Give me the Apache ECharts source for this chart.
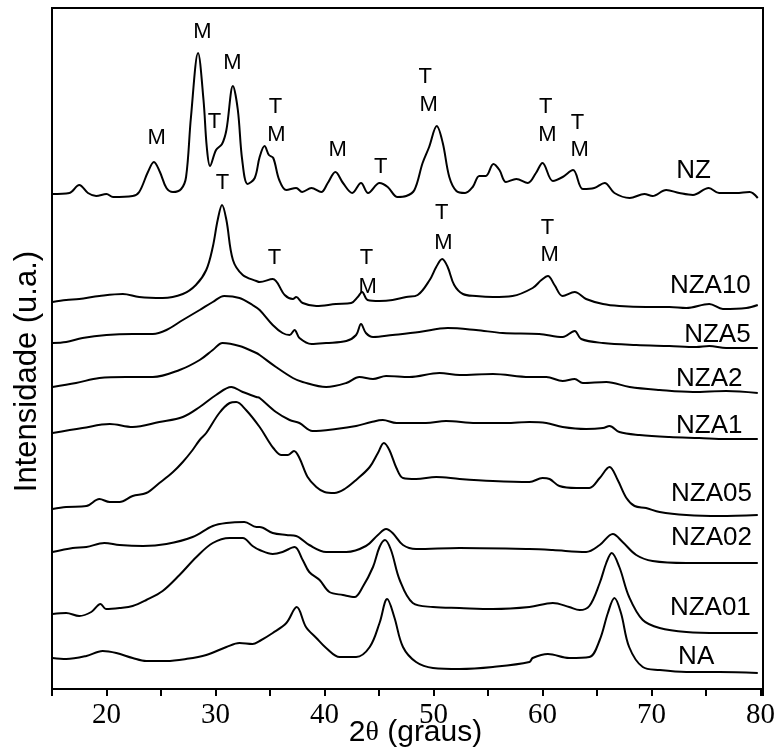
<!DOCTYPE html>
<html>
<head>
    <meta charset="utf-8">
    <title>DRX amostras NZ / NZA / NA</title>
    <script src="https://cdn.jsdelivr.net/npm/echarts@6/dist/echarts.min.js"></script>
</head>
<body style="margin:0">
    <div id="main" style="width:784px; height:749px"></div>
    <script type="text/javascript">
        // 2theta (graus), intensidade (u.a., curvas deslocadas)
        var nz = [[15.0,495],[16.6,496],[17.5,504],[18.3,496],[19.05,493],[20.0,495],[20.6,492],[22.4,493],[23.0,497],[23.8,517],[24.35,527],[24.9,517],[25.5,501],[26.1,497],[26.85,500],[27.3,512],[27.75,572],[28.4,636],[28.9,589],[29.2,542],[29.5,523],[30.05,539],[30.6,545],[31.0,559],[31.6,603],[32.05,579],[32.45,529],[32.95,505],[33.6,511],[34.05,532],[34.5,543],[34.9,534],[35.3,531],[35.85,509],[36.5,499],[37.4,501],[37.95,497],[38.8,501],[39.7,497],[40.3,506],[41.0,517],[41.7,506],[42.55,496],[43.35,506],[44.0,496],[45.05,506],[45.8,502],[46.7,492],[47.5,493],[48.25,499],[49.0,526],[49.6,542],[50.3,563],[50.85,546],[51.45,512],[52.1,498],[52.9,496],[53.6,502],[54.2,513],[54.8,513],[55.5,525],[56.05,519],[56.65,507],[57.6,510],[58.65,506],[59.4,516],[60.0,526],[60.95,508],[61.85,512],[62.8,519],[63.7,500],[64.75,501],[65.7,506],[66.6,496],[68.0,491],[69.35,495],[70.1,493],[71.35,499],[72.55,496],[73.8,494],[75.25,501],[76.2,496],[77.75,496],[79.0,497],[79.75,491]];
        var nza10 = [[15.05,387],[16.3,389],[17.5,390],[19.35,393],[21.5,395],[23.0,392],[25.15,391],[27.0,395],[28.2,404],[29.15,419],[29.75,442],[30.2,469],[30.6,484],[31.0,469],[31.6,429],[32.5,414],[33.75,408],[34.05,407],[35.25,410],[36.35,394],[37.1,390],[37.4,392],[38.0,386],[39.25,383],[41.05,385],[42.45,386],[43.05,392],[43.45,397],[43.95,389],[45.05,388],[46.25,389],[47.5,392],[48.55,394],[49.65,409],[50.25,422],[50.8,430],[51.3,422],[51.9,404],[52.7,395],[53.9,393],[55.45,392],[57.25,393],[59.1,401],[59.9,409],[60.5,413],[61.1,404],[61.85,393],[62.95,397],[64.0,390],[65.55,385],[67.05,383],[69.5,382],[71.65,382],[73.2,381],[75.3,385],[76.55,380],[78.7,381],[79.75,384]];
        var nza5 = [[15.05,346],[16.3,347],[17.8,351],[20.0,354],[22.4,355],[24.25,355],[25.5,359],[27.0,369],[28.55,379],[29.75,387],[30.8,393],[32.2,391],[33.4,384],[34.05,379],[35.25,364],[36.15,356],[36.8,354],[37.25,359],[37.7,351],[38.8,345],[40.15,346],[42.0,348],[42.9,354],[43.35,365],[43.8,356],[44.45,352],[46.25,354],[48.7,357],[51.3,361],[53.9,359],[56.35,356],[59.7,355],[61.85,352],[62.95,358],[63.55,350],[65.55,346],[68.6,344],[71.65,343],[74.1,342],[75.3,343],[76.85,341],[79.75,341]];
        var nza2 = [[15.05,302],[17.2,306],[19.35,311],[21.8,312],[24.25,312],[26.7,319],[28.55,329],[29.75,339],[30.65,346],[32.2,343],[33.75,336],[34.05,334],[35.55,322],[37.1,311],[38.0,307],[40.15,302],[42.0,306],[43.2,312],[44.45,310],[45.65,313],[47.8,312],[50.55,316],[52.4,314],[55.45,315],[58.8,312],[60.35,312],[61.85,308],[62.95,310],[63.7,306],[65.85,307],[68.0,302],[70.75,299],[73.8,297],[76.85,298],[79.75,296]];
        var nza1 = [[15.05,256],[17.8,261],[20.3,265],[22.4,262],[24.85,267],[27.0,272],[28.55,282],[30.05,294],[31.45,302],[32.5,297],[33.75,292],[34.05,291],[35.55,277],[36.8,269],[37.7,266],[38.9,258],[41.05,260],[42.9,263],[44.3,267],[45.35,269],[46.6,266],[49.3,266],[51.15,268],[53.9,266],[56.65,266],[58.8,267],[60.35,266],[61.85,262],[64.0,260],[65.55,261],[66.15,263],[67.05,257],[68.9,254],[71.65,252],[74.4,251],[76.85,250],[79.75,250]];
        var nza05 = [[15.05,180],[16.3,182],[18.15,183],[19.35,190],[20.3,187],[21.2,187],[22.4,193],[23.65,196],[24.85,206],[26.1,217],[27.0,227],[27.9,239],[28.55,249],[29.15,256],[30.35,276],[31.3,286],[31.9,287],[32.8,279],[34.05,262],[34.8,249],[35.3,241],[36.05,234],[36.65,234],[37.2,238],[37.7,231],[38.45,212],[39.25,202],[40.0,197],[40.9,196],[41.85,200],[42.9,209],[44.15,222],[44.9,236],[45.45,246],[45.95,239],[46.6,221],[47.2,211],[48.4,210],[50.25,212],[52.4,210],[55.45,208],[58.8,207],[60.0,211],[60.65,210],[61.55,203],[63.1,201],[64.3,201],[65.25,211],[66.15,222],[66.9,209],[67.7,191],[68.45,183],[69.5,181],[70.75,177],[73.2,174],[76.25,173],[79.75,174]];
        var nza02 = [[15.05,137],[16.9,141],[18.15,142],[19.8,146],[21.2,144],[23.35,143],[25.5,145],[27.9,152],[29.75,163],[31.0,166],[32.65,167],[33.75,162],[34.05,162],[35.25,156],[36.5,154],[37.4,153],[38.6,144],[40.15,137],[42.0,137],[43.8,143],[44.9,154],[45.65,160],[46.25,156],[47.2,144],[48.4,140],[52.4,141],[58.8,140],[60.95,139],[64.0,137],[65.25,144],[66.45,155],[67.35,147],[68.6,134],[70.1,128],[73.2,126],[76.25,126],[79.75,126]];
        var nza01 = [[15.05,75],[16.3,76],[17.5,73],[18.6,77],[19.45,85],[19.95,80],[21.2,81],[22.4,83],[23.65,89],[25.15,98],[26.7,114],[28.25,132],[29.75,146],[31.3,151],[32.5,151],[33.4,143],[34.05,139],[35.25,135],[36.15,137],[37.25,142],[38.0,129],[38.6,117],[39.55,109],[40.45,97],[41.7,94],[42.75,92],[43.5,102],[44.45,122],[45.05,142],[45.55,149],[46.1,139],[46.9,109],[48.1,86],[49.95,82],[52.4,81],[55.45,80],[58.8,82],[60.95,86],[62.45,82],[63.4,79],[64.3,83],[65.25,106],[65.85,126],[66.35,136],[67.05,122],[67.95,92],[69.2,69],[70.75,61],[73.2,57],[76.25,56],[79.75,56]];
        var na = [[15.05,31],[16.3,30],[18.15,33],[19.65,38],[20.9,36],[22.4,31],[23.65,28],[25.5,28],[27.3,30],[29.15,34],[31.0,42],[32.2,46],[33.4,45],[34.05,48],[35.25,56],[36.5,66],[37.45,82],[38.3,62],[39.25,51],[40.15,41],[41.4,32],[42.9,32],[44.15,42],[45.05,66],[45.75,90],[46.4,72],[47.2,42],[48.4,27],[49.95,21],[52.4,20],[55.45,22],[58.8,27],[59.1,31],[60.5,35],[62.45,31],[64.3,32],[65.25,49],[66.0,76],[66.6,91],[67.2,76],[67.95,42],[69.2,22],[70.75,19],[73.2,17],[76.25,17],[79.75,16]];

        // fases: M = monoclinica, T = tetragonal
        var peakLabels = [
            [28.8,657,'M'],[31.55,626,'M'],[29.9,567,'T'],[24.6,551,'M'],
            [35.5,582,'T'],[35.6,554,'M'],[41.2,539,'M'],[45.15,522,'T'],
            [49.25,612,'T'],[49.55,584,'M'],[60.3,582,'T'],[60.45,554,'M'],
            [63.2,566,'T'],[63.4,539,'M'],
            [30.65,506,'T'],[35.4,431,'T'],[43.85,431,'T'],[43.95,402,'M'],
            [50.75,476,'T'],[50.9,446,'M'],[60.45,461,'T'],[60.65,434,'M']
        ];
        var sampleLabels = [
            [73.85,518,'NZ'],[75.4,403,'NZA10'],[76.05,354,'NZA5'],[75.3,310,'NZA2'],
            [75.3,263,'NZA1'],[75.5,195,'NZA05'],[75.5,151,'NZA02'],[75.4,81,'NZA01'],[74.1,32,'NA']
        ];
        var xTickLabels = [20, 30, 40, 50, 60, 70, 80];

        var curves = [nz, nza10, nza5, nza2, nza1, nza05, nza02, nza01, na];
        var names = ['NZ', 'NZA10', 'NZA5', 'NZA2', 'NZA1', 'NZA05', 'NZA02', 'NZA01', 'NA'];

        var myChart = echarts.init(document.getElementById('main'));

        var series = curves.map(function (d, i) {
            return {
                name: names[i],
                type: 'line',
                data: d,
                smooth: 0.35,
                symbol: 'none',
                lineStyle: { color: '#000', width: 2 },
                silent: true
            };
        });

        function textSeries(data, size) {
            return {
                type: 'scatter',
                data: data,
                symbolSize: 1,
                itemStyle: { color: 'rgba(0,0,0,0)', opacity: 1 },
                silent: true,
                label: {
                    show: true,
                    position: 'inside',
                    color: '#000',
                    opacity: 1,
                    textBorderWidth: 0,
                    fontFamily: 'Liberation Sans',
                    fontSize: size,
                    formatter: function (p) { return p.data[2]; }
                }
            };
        }
        series.push(textSeries(peakLabels, 22));
        series.push(textSeries(sampleLabels, 26));

option = {
    animation: false,
    backgroundColor: '#fff',
    grid: {
        left: 52,
        right: 21,
        top: 8,
        bottom: 60,
        containLabel: false,
        outerBoundsMode: 'none',
        show: true,
        borderColor: '#000',
        borderWidth: 2
    },
    xAxis: {
        type: 'value',
        min: 15,
        max: 80.23,
        interval: 5,
        name: '{a|2}{b|θ}{a| (graus)}',
        nameLocation: 'middle',
        nameGap: 29,
        nameMoveOverlap: false,
        nameTextStyle: {
            padding: [0, 0, 0, 16],
            rich: {
                a: { fontFamily: 'Liberation Sans', fontSize: 30, color: '#000' },
                b: { fontFamily: 'Liberation Serif', fontSize: 28, color: '#000' }
            }
        },
        axisLine: { lineStyle: { color: '#000', width: 2 } },
        axisTick: { length: 7, lineStyle: { color: '#000', width: 2 } },
        axisLabel: {
            margin: 12,
            color: '#000',
            fontFamily: 'Liberation Serif',
            fontSize: 29,
            showMaxLabel: true,
            formatter: function (v) {
                return xTickLabels.indexOf(v) >= 0 ? String(v) : '';
            }
        },
        splitLine: { show: false }
    },
    yAxis: {
        type: 'value',
        min: 0,
        max: 681,
        name: 'Intensidade (u.a.)',
        nameLocation: 'middle',
        nameGap: 9,
        nameTextStyle: {
            color: '#000',
            fontFamily: 'Liberation Sans',
            fontSize: 31,
            padding: [0, 46, 0, 0]
        },
        axisLine: { lineStyle: { color: '#000', width: 2 } },
        axisTick: { show: false },
        axisLabel: { show: false },
        splitLine: { show: false }
    },
    series: series
};

        myChart.setOption(option);
    </script>
</body>
</html>
